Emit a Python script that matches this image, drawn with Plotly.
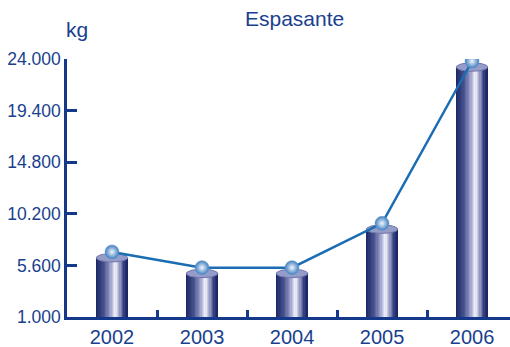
import numpy as np
import plotly.graph_objects as go

# ---- data ----
years = ["2002", "2003", "2004", "2005", "2006"]
values = [6800, 5400, 5400, 9350, 23800]          # kg
y_tickvals = [1000, 5600, 10200, 14800, 19400, 24000]
y_ticktext = ["1.000", "5.600", "10.200", "14.800", "19.400", "24.000"]
title_text = "Espasante"
unit_text = "kg"

# ---- style ----
NAVY = "#14398a"
TEXT = "#1a3f8e"
LINE = "#1a6db3"
BAR_W = 0.35
CAP_DROP = 520      # sphere sits slightly above the cylinder cap
CAP_H = 380         # half height of cap ellipse (data units)

x = np.arange(len(years))
bar_top = np.array(values) - CAP_DROP

# cylinder body as gradient slices
stops = [(0.0, (24, 36, 100)), (0.25, (70, 80, 140)), (0.45, (150, 155, 200)),
         (0.62, (245, 245, 252)), (0.78, (140, 145, 190)), (0.9, (50, 60, 125)),
         (1.0, (22, 34, 98))]


def grad(t):
    for (t0, c0), (t1, c1) in zip(stops[:-1], stops[1:]):
        if t0 <= t <= t1:
            f = (t - t0) / (t1 - t0)
            return "rgb(%d,%d,%d)" % tuple(int(round(a + (b - a) * f)) for a, b in zip(c0, c1))
    return "rgb(%d,%d,%d)" % stops[-1][1]


N = 24
fig = go.Figure()
for k in range(N):
    fig.add_trace(go.Bar(
        x=x, y=bar_top, width=BAR_W / N * 1.08, offset=-BAR_W / 2 + k * BAR_W / N,
        marker=dict(color=grad((k + 0.5) / N), line=dict(width=0)),
        hoverinfo="skip", showlegend=False))

# cylinder caps
th = np.linspace(0, 2 * np.pi, 60)
for xi, yt in zip(x, bar_top):
    fig.add_trace(go.Scatter(
        x=xi + BAR_W / 2 * np.cos(th), y=yt + CAP_H * np.sin(th),
        mode="lines", fill="toself", fillcolor="#959cc8",
        line=dict(color="#6e76ad", width=1), hoverinfo="skip", showlegend=False))

# line with spheres
fig.add_trace(go.Scatter(
    x=x, y=values, mode="lines+markers",
    line=dict(color=LINE, width=2.5),
    marker=dict(size=14, color="#3f7fc0",
                gradient=dict(type="radial", color="#f2f6fc"),
                line=dict(color="#5f94cc", width=0.5)),
    showlegend=False))

# boundary ticks on overlay axis
fig.add_trace(go.Scatter(x=[0], y=[None], xaxis="x2", showlegend=False, hoverinfo="skip"))

fig.update_layout(
    width=510, height=347,
    margin=dict(l=67, r=0, t=59, b=30),
    paper_bgcolor="white", plot_bgcolor="white",
    barmode="overlay", bargap=0,
    font=dict(family="Liberation Sans, Arial, sans-serif", color=TEXT),
    xaxis=dict(range=[-0.5, 4.422], tickvals=list(x), ticktext=years, automargin=False,
               showgrid=False, zeroline=False, showline=True, linecolor=NAVY,
               linewidth=2.5, ticks="", tickfont=dict(size=20, color=TEXT)),
    xaxis2=dict(range=[-0.5, 4.422], overlaying="x", side="bottom", automargin=False,
                tickvals=[i + 0.5 for i in range(len(years) - 1)],
                ticks="inside", ticklen=7, tickwidth=2.5, tickcolor=NAVY,
                showticklabels=False, showgrid=False, zeroline=False, showline=False),
    yaxis=dict(range=[1000, 24000], tickvals=y_tickvals, ticktext=y_ticktext, automargin=False,
               showgrid=False, zeroline=False, showline=True, linecolor=NAVY,
               linewidth=2.5, ticks="inside", ticklen=10, tickwidth=2.5, tickcolor=NAVY,
               tickfont=dict(size=17.5, color=TEXT)),
    annotations=[
        dict(text=title_text, x=294, y=19, showarrow=False,
             font=dict(size=21, color=TEXT)),
        dict(text=unit_text, x=77, y=29, showarrow=False, font=dict(size=21, color=TEXT)),
    ],
)
# annotations in pixel positions -> convert to paper fractions
pw, ph = 510 - 67, 347 - 59 - 30
for a in fig.layout.annotations:
    px, py = a.x, a.y
    a.x = (px - 67) / pw
    a.y = 1 + (59 - py) / ph
    a.xref = "paper"
    a.yref = "paper"
    a.xanchor = "center"
    a.yanchor = "middle"

fig.write_html("out.html", config={"displayModeBar": False},
               post_script="document.body.style.margin='0';document.body.style.overflow='hidden';")
